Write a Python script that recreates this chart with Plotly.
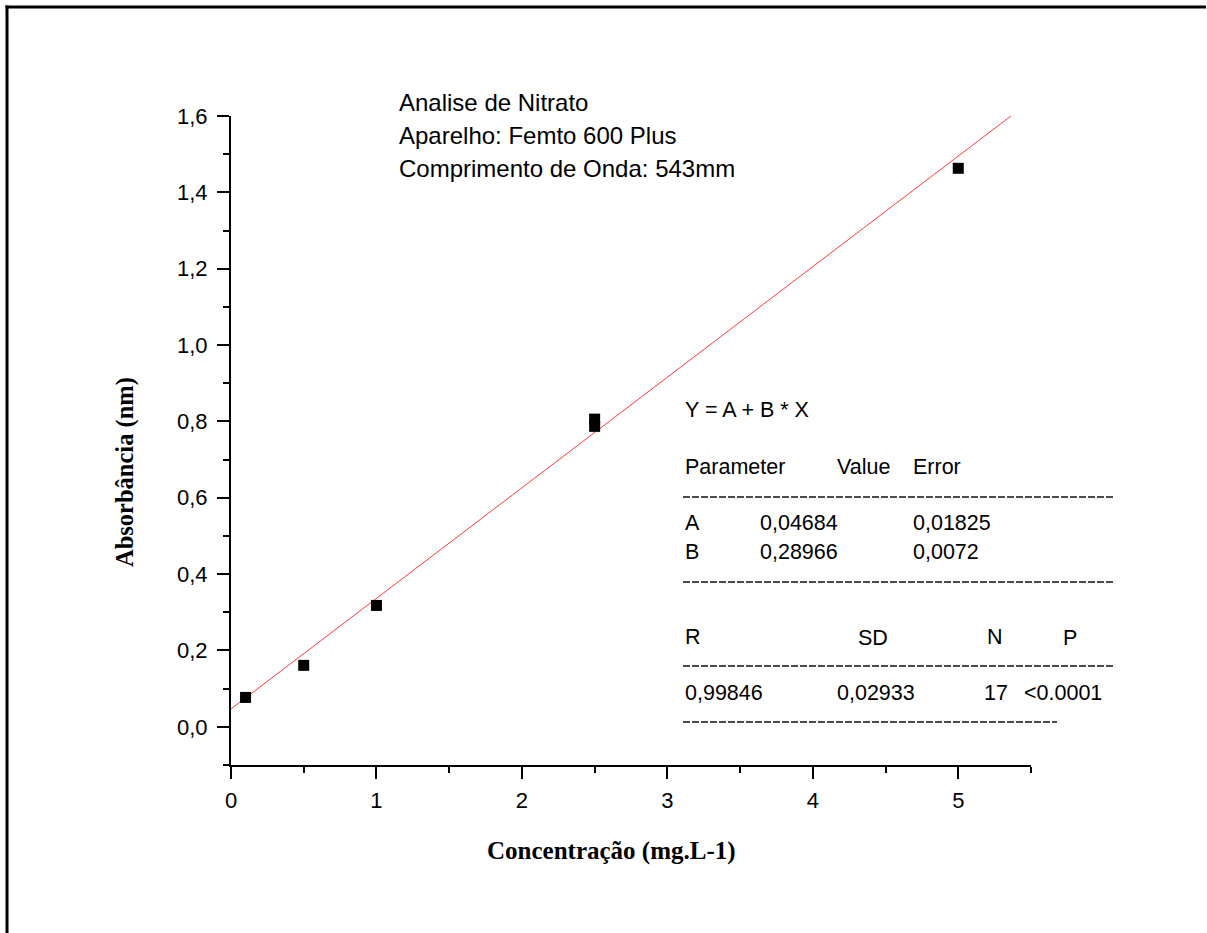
import plotly.graph_objects as go

# ---- data ----
conc = [0.1, 0.5, 1.0, 2.5, 2.5, 5.0]
absorb = [0.077, 0.161, 0.318, 0.787, 0.806, 1.463]
fit_A = 0.04684
fit_B = 0.28966
fit_x = [0.0, 5.362]
fit_y = [fit_A + fit_B * x for x in fit_x]

x_ticks = [0, 1, 2, 3, 4, 5]
y_ticks = [0.0, 0.2, 0.4, 0.6, 0.8, 1.0, 1.2, 1.4, 1.6]

header_lines = ["Analise de Nitrato", "Aparelho: Femto 600 Plus", "Comprimento de Onda: 543mm"]

table_cells = [
    ("Y = A + B * X", 683, 410),
    ("Parameter", 683, 467), ("Value", 835, 467), ("Error", 911, 467),
    ("A", 683, 523), ("0,04684", 758, 523), ("0,01825", 911, 523),
    ("B", 683, 552), ("0,28966", 758, 552), ("0,0072", 911, 552),
    ("R", 683, 637), ("SD", 856, 638), ("N", 985, 637), ("P", 1061, 638),
    ("0,99846", 683, 693), ("0,02933", 835, 693), ("17", 982, 693), ("<0.0001", 1022, 693),
]
table_rules = [(683, 1115, 497), (683, 1115, 582), (683, 1115, 666), (683, 1057, 722)]

# ---- layout geometry (pixels) ----
W, H = 1207, 933
L, R, T, B = 231, 1031, 116, 765


def px(xp):
    return (xp - L) / (R - L)


def py(yp):
    return (B - yp) / (B - T)


SANS = "Liberation Sans, Arial, sans-serif"
SERIF = "Liberation Serif, Times New Roman, serif"

fig = go.Figure()
fig.add_trace(go.Scatter(x=fit_x, y=fit_y, mode="lines",
                         line=dict(color="#ff3a3a", width=1), showlegend=False))
fig.add_trace(go.Scatter(x=conc, y=absorb, mode="markers",
                         marker=dict(symbol="square", size=11, color="black", line=dict(width=0)),
                         showlegend=False))

annotations = []
for i, txt in enumerate(header_lines):
    annotations.append(dict(text=txt, x=px(397), y=py(103 + i * 32.5), xref="paper", yref="paper",
                            xanchor="left", yanchor="middle", showarrow=False,
                            font=dict(family=SANS, size=24, color="black")))
for txt, xx, yy in table_cells:
    annotations.append(dict(text=txt, x=px(xx), y=py(yy), xref="paper", yref="paper",
                            xanchor="left", yanchor="middle", showarrow=False,
                            font=dict(family=SANS, size=21.5, color="black")))
annotations.append(dict(text="<b>Concentração (mg.L-1)</b>", x=px(611), y=py(851), xref="paper", yref="paper",
                        xanchor="center", yanchor="middle", showarrow=False,
                        font=dict(family=SERIF, size=25, color="black")))
annotations.append(dict(text="<b>Absorbância (nm)</b>", x=px(125), y=py(472), xref="paper", yref="paper",
                        xanchor="center", yanchor="middle", showarrow=False, textangle=-90,
                        font=dict(family=SERIF, size=24.5, color="black")))

shapes = []
for x0, x1, yy in table_rules:
    shapes.append(dict(type="line", xref="paper", yref="paper", x0=px(x0), x1=px(x1), y0=py(yy), y1=py(yy),
                       line=dict(color="#111111", width=1.5, dash="7px,2px")))
# outer frame: only top and left edges are visible
shapes.append(dict(type="line", xref="paper", yref="paper", x0=px(5.5), x1=px(1206), y0=py(7), y1=py(7),
                   line=dict(color="black", width=3)))
shapes.append(dict(type="line", xref="paper", yref="paper", x0=px(7), x1=px(7), y0=py(5.5), y1=py(1000),
                   line=dict(color="black", width=3)))

fig.update_layout(
    width=W, height=H,
    margin=dict(l=L, r=W - R, t=T, b=H - B, pad=0),
    paper_bgcolor="white", plot_bgcolor="white",
    separators=",.",
    annotations=annotations, shapes=shapes,
    showlegend=False,
)
fig.update_xaxes(range=[0, 5.5], tickvals=x_ticks, ticks="outside", ticklen=12, tickwidth=2,
                 tickcolor="black", showline=True, linewidth=2, linecolor="black",
                 showgrid=False, zeroline=False, ticklabelstandoff=3,
                 minor=dict(dtick=0.5, tick0=0, ticks="outside", ticklen=6, tickwidth=2, tickcolor="black"),
                 tickfont=dict(family=SANS, size=22, color="black"))
fig.update_yaxes(range=[-0.1, 1.6], tickvals=y_ticks, tickformat=".1f", ticks="outside", ticklen=12,
                 tickwidth=2, tickcolor="black", showline=True, linewidth=2, linecolor="black",
                 showgrid=False, zeroline=False, ticklabelstandoff=5,
                 minor=dict(dtick=0.1, tick0=0, ticks="outside", ticklen=6, tickwidth=2, tickcolor="black"),
                 tickfont=dict(family=SANS, size=22, color="black"))

fig.write_html("out.html", config={"displayModeBar": False},
               post_script="document.body.style.margin='0px';document.body.style.overflow='hidden';"
                           "document.documentElement.style.overflow='hidden';")
